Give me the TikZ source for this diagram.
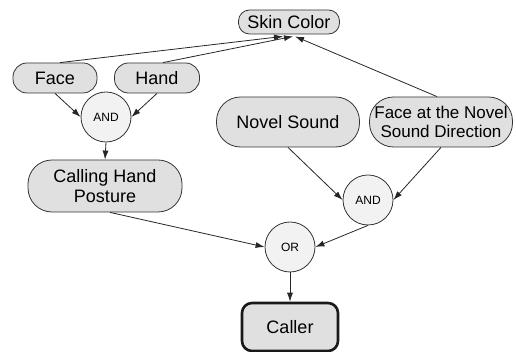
\documentclass[tikz,border=0pt]{standalone}
\usepackage{fontspec}
\setmainfont{Liberation Sans}
\usetikzlibrary{arrows.meta}

\tikzset{
  cue/.style={draw=black!80, fill=black!12, align=center, inner sep=0pt,
    font=\fontsize{18}{20}\selectfont},
  gate/.style={circle, draw=black!80, fill=black!5, minimum size=50pt,
    inner sep=0pt, font=\fontsize{12}{14}\selectfont},
  link/.style={draw=black!85, -{Latex[length=9pt,width=6pt]}},
}

\begin{document}
\begin{tikzpicture}[x=1pt,y=1pt,line width=0.8pt]
  \useasboundingbox (0,0) rectangle (516,352);

  \node[cue, minimum width=101pt, minimum height=24pt, rounded corners=11pt]
        (skin)    at (289,330) {Skin Color};
  \node[cue, minimum width=84pt, minimum height=30pt, rounded corners=14pt]
        (face)    at (55,274)  {Face};
  \node[cue, minimum width=85pt, minimum height=30pt, rounded corners=14pt]
        (hand)    at (157,274) {Hand};
  \node[gate] (and1)    at (106,235) {AND};
  \node[cue, minimum width=154pt, minimum height=52pt, rounded corners=24pt]
        (calling) at (105,166) {Calling Hand\\Posture};
  \node[cue, minimum width=143pt, minimum height=50pt, rounded corners=24pt]
        (novel)   at (288,230) {Novel Sound};
  \node[cue, minimum width=143pt, minimum height=50pt, rounded corners=24pt,
        font=\fontsize{17}{19}\selectfont]
        (faceat)  at (441,230) {Face at the Novel\\Sound Direction};
  \node[gate] (and2)    at (368,152) {AND};
  \node[gate] (or)      at (290,105) {OR};
  \node[cue, minimum width=96pt, minimum height=48pt, rounded corners=10pt,
        line width=2.6pt, draw=black!90]
        (caller)  at (290,25)  {Caller};

  % cues feeding skin color
  \draw[link] ([xshift=5pt]face.north)   -- ([xshift=-6pt,yshift=-2pt]skin.south);
  \draw[link] ([xshift=6pt]hand.north)   -- ([xshift=4pt,yshift=-2pt]skin.south);
  \draw[link] ([xshift=-4pt]faceat.north) -- ([xshift=6pt,yshift=-2pt]skin.south);

  % gesture branch
  \draw[link] (face.south)    -- (and1.west);
  \draw[link] (hand.south)    -- (and1.east);
  \draw[link] (and1.south)    -- (calling.north);
  \draw[link] ([xshift=5pt]calling.south) -- (or.west);

  % sound branch
  \draw[link] (novel.south)   -- (and2.west);
  \draw[link] (faceat.south)  -- (and2.east);
  \draw[link] (and2.south)    -- (or.east);

  \draw[link] (or.south)      -- (caller.north);
\end{tikzpicture}
\end{document}
